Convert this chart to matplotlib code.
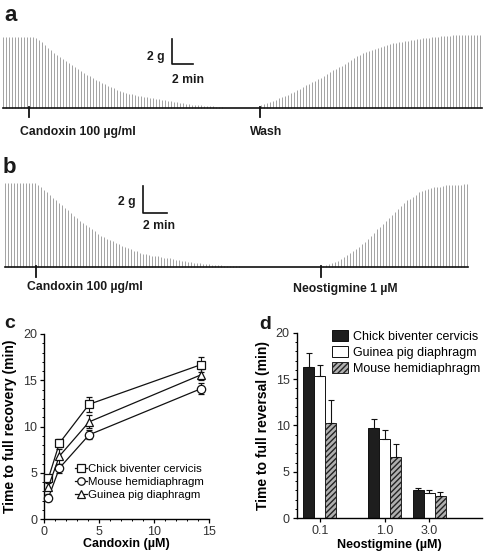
import numpy as np
import matplotlib.pyplot as plt
from matplotlib.ticker import MultipleLocator

plt.rcParams['font.family'] = ['Liberation Sans', 'DejaVu Sans']

# ---- panel a: twitch amplitudes (g), one twitch every 2/7 min
twitch_step_a = 2.0 / 7.0
twitch_a = ([5.68] * 11 +
            [5.60, 5.44, 5.24, 5.04, 4.80, 4.60, 4.40, 4.24, 4.08, 3.92,
             3.76, 3.60, 3.44, 3.28, 3.12, 2.96, 2.76, 2.64, 2.52, 2.40,
             2.24, 2.12, 2.00, 1.88, 1.76, 1.68, 1.56, 1.44, 1.36, 1.28,
             1.20, 1.12, 1.08, 1.00, 0.96, 0.92, 0.88, 0.84, 0.80, 0.76,
             0.72, 0.68, 0.64, 0.60, 0.56, 0.52, 0.48, 0.44, 0.40, 0.36,
             0.32, 0.30, 0.27, 0.25, 0.22, 0.21, 0.18, 0.16, 0.14, 0.12,
             0.10, 0.09, 0.08] +
            [0.0] * 12 +
            [0.24, 0.32, 0.40, 0.48, 0.56, 0.66, 0.76, 0.84, 0.96, 1.04,
             1.16, 1.28, 1.40, 1.52, 1.64, 1.80, 1.92, 2.04, 2.16, 2.28,
             2.40, 2.56, 2.68, 2.84, 3.00, 3.12, 3.24, 3.36, 3.52, 3.68,
             3.84, 3.96, 4.12, 4.24, 4.36, 4.48, 4.56, 4.64, 4.72, 4.80,
             4.88, 4.96, 5.04, 5.08, 5.16, 5.20, 5.24, 5.28, 5.32, 5.36,
             5.40, 5.44, 5.48, 5.52, 5.56, 5.60, 5.62, 5.65, 5.68, 5.70,
             5.72, 5.74, 5.76, 5.78] +
            [5.82] * 10)
events_a = [2.48, 24.48]
event_labels_a = ['Candoxin 100 µg/ml', 'Wash']

# ---- panel b: twitch amplitudes (g), one twitch every 0.25 min
twitch_step_b = 0.25
twitch_b = ([6.22] * 11 +
            [6.07, 5.93, 5.74, 5.56, 5.33, 5.11, 4.93, 4.74, 4.56, 4.37,
             4.19, 4.00, 3.78, 3.63, 3.44, 3.26, 3.11, 2.96, 2.78, 2.63,
             2.48, 2.33, 2.22, 2.11, 2.00, 1.89, 1.78, 1.70, 1.59, 1.48,
             1.41, 1.30, 1.22, 1.15, 1.07, 1.00, 0.93, 0.89, 0.85, 0.81,
             0.78, 0.74, 0.70, 0.67, 0.63, 0.59, 0.54, 0.49, 0.45, 0.41,
             0.39, 0.36, 0.33, 0.30, 0.28, 0.25, 0.22, 0.20, 0.18, 0.16,
             0.13, 0.12, 0.10, 0.09, 0.07, 0.06, 0.04, 0.04] +
            [0.0] * 27 +
            [0.07, 0.15, 0.22, 0.30, 0.37, 0.48, 0.59, 0.74, 0.89, 1.04,
             1.19, 1.33, 1.48, 1.67, 1.85, 2.07, 2.30, 2.52, 2.78, 3.00,
             3.22, 3.44, 3.63, 3.85, 4.07, 4.30, 4.52, 4.74, 4.93, 5.07,
             5.22, 5.37, 5.52, 5.63, 5.70, 5.78, 5.85, 5.89, 5.93, 5.96,
             6.00, 6.04, 6.07, 6.07, 6.10, 6.11, 6.11, 6.12, 6.12])
events_b = [2.58, 26.33]
event_labels_b = ['Candoxin 100 µg/ml', 'Neostigmine 1 µM']

# ---- panel c: time to full recovery (min) vs candoxin (uM)
cand_conc = [0.4, 1.4, 4.1, 14.3]
chick_rec = [4.4, 8.2, 12.4, 16.7]
chick_rec_err = [0.4, 0.4, 0.8, 0.8]
mouse_rec = [2.3, 5.5, 9.1, 14.1]
mouse_rec_err = [0.4, 0.5, 0.5, 0.6]
guinea_rec = [3.5, 6.8, 10.5, 15.6]
guinea_rec_err = [0.4, 0.8, 0.7, 0.6]

# ---- panel d: time to full reversal (min) vs neostigmine (uM)
neo_labels = ['0.1', '1.0', '3.0']
chick_rev = [16.3, 9.7, 3.0]
chick_rev_err = [1.5, 1.0, 0.3]
guinea_rev = [15.3, 8.5, 2.75]
guinea_rev_err = [1.2, 1.0, 0.3]
mouse_rev = [10.3, 6.6, 2.45]
mouse_rev_err = [2.4, 1.4, 0.4]

W, H = 488, 552
fig = plt.figure(figsize=(W / 100, H / 100), dpi=100)


def px_axes(x0, y0, x1, y1):
    # axes from pixel box (top-left origin)
    return fig.add_axes([x0 / W, 1 - y1 / H, (x1 - x0) / W, (y1 - y0) / H])


def draw_trace(ax, amps, step, events, labels, label_pos, bar, end):
    t = np.arange(len(amps)) * step
    ax.vlines(t, 0, amps, color='#a3a3a3', lw=0.7)
    ax.plot([t[0], end], [0, 0], color='#111111', lw=1.2)
    for ev in events:
        ax.plot([ev, ev], [0.1, -0.72], color='#111111', lw=1.3)
    for lab, (lx, ly) in zip(labels, label_pos):
        ax.text(lx, ly, lab, fontsize=8.8, fontweight='bold',
                ha='left', va='center', color='#1a1a1a')
    bx, by = bar
    ax.plot([bx, bx, bx + 2], [by + 2, by, by], color='#111111', lw=1.2)
    ax.axis('off')
    return t


# panel a (10.5 px/min, 12.5 px/g, baseline at y=108 px)
ax_a = px_axes(0, 30, 488, 145)
ax_a.set_xlim(-3 / 10.5, 485 / 10.5)
ax_a.set_ylim((108 - 145) / 12.5, (108 - 30) / 12.5)
draw_trace(ax_a, twitch_a, twitch_step_a, events_a, event_labels_a,
           [(1.62, -1.92), (23.5, -1.92)], (16.1, 3.52), 479 / 10.5)
ax_a.text(15.4, 4.1, '2 g', fontsize=8.8, fontweight='bold', ha='right',
          va='center', color='#1a1a1a')
ax_a.text(16.1, 2.24, '2 min', fontsize=8.8, fontweight='bold', ha='left',
          va='center', color='#1a1a1a')

# panel b (12 px/min, 13.5 px/g, baseline at y=267 px)
ax_b = px_axes(0, 175, 488, 300)
ax_b.set_xlim(-5 / 12, 483 / 12)
ax_b.set_ylim((267 - 300) / 13.5, (267 - 175) / 13.5)
draw_trace(ax_b, twitch_b, twitch_step_b, events_b, event_labels_b,
           [(1.83, -1.5), (24.0, -1.65)], (11.5, 4.0), 463 / 12)
ax_b.text(10.92, 4.84, '2 g', fontsize=8.8, fontweight='bold', ha='right',
          va='center', color='#1a1a1a')
ax_b.text(11.5, 3.04, '2 min', fontsize=8.8, fontweight='bold', ha='left',
          va='center', color='#1a1a1a')


def style_axes(ax):
    for s in ['top', 'right']:
        ax.spines[s].set_visible(False)
    for s in ['left', 'bottom']:
        ax.spines[s].set_linewidth(1.0)
    ax.tick_params(which='major', direction='out', length=3, width=0.9,
                   labelsize=9, labelcolor='#333333', pad=2)
    ax.tick_params(which='minor', direction='out', length=1.6, width=0.7)
    ax.yaxis.set_major_locator(MultipleLocator(5))
    ax.yaxis.set_minor_locator(MultipleLocator(1))
    ax.set_ylim(0, 20)


# panel c
ax_c = px_axes(44, 334, 209, 519)
style_axes(ax_c)
ax_c.set_xlim(0, 15)
ax_c.xaxis.set_major_locator(MultipleLocator(5))
ax_c.xaxis.set_minor_locator(MultipleLocator(1))
series_c = [(chick_rec, chick_rec_err, 's', 'Chick biventer cervicis'),
            (mouse_rec, mouse_rec_err, 'o', 'Mouse hemidiaphragm'),
            (guinea_rec, guinea_rec_err, '^', 'Guinea pig diaphragm')]
for vals, err, mk, lab in series_c:
    ax_c.errorbar(cand_conc, vals, yerr=err, color='#111111', lw=0.9,
                  marker=mk, ms=6, mfc='white', mec='#111111', mew=0.9,
                  capsize=2.5, elinewidth=0.8, capthick=0.8, label=lab,
                  clip_on=False, zorder=3)
handles, labs = ax_c.get_legend_handles_labels()
ax_c.legend([h[0] for h in handles], labs, loc='upper left',
            bbox_to_anchor=(0.19, 0.30), frameon=False, fontsize=8.2,
            handlelength=1.0, handletextpad=0.1, labelspacing=0.3,
            borderpad=0, borderaxespad=0, markerscale=0.9)
ax_c.set_ylabel('Time to full recovery (min)', fontsize=10,
                fontweight='bold', labelpad=4)
ax_c.set_xlabel('Candoxin (µM)', fontsize=9, fontweight='bold', labelpad=0)

# panel d (x in bar-width units)
ax_d = px_axes(296.7, 332.7, 481.7, 518.3)
style_axes(ax_d)
ax_d.set_xlim(0, 16.8)
group_x = np.array([2.1, 8.0, 12.05])
bar_w = 1.0
ax_d.bar(group_x - bar_w, chick_rev, bar_w, yerr=[[0] * 3, chick_rev_err],
         color='#1e1e1e', edgecolor='#111111', lw=0.7,
         error_kw=dict(capsize=2.5, elinewidth=0.8, capthick=0.8,
                       ecolor='#111111'),
         label='Chick biventer cervicis')
ax_d.bar(group_x, guinea_rev, bar_w, yerr=[[0] * 3, guinea_rev_err],
         color='white', edgecolor='#111111', lw=0.7,
         error_kw=dict(capsize=2.5, elinewidth=0.8, capthick=0.8,
                       ecolor='#111111'),
         label='Guinea pig diaphragm')
ax_d.bar(group_x + bar_w, mouse_rev, bar_w, yerr=[[0] * 3, mouse_rev_err],
         color='#b0b0b0', edgecolor='#222222', lw=0.7, hatch='//////',
         error_kw=dict(capsize=2.5, elinewidth=0.8, capthick=0.8,
                       ecolor='#111111'),
         label='Mouse hemidiaphragm')
ax_d.set_xticks(group_x)
ax_d.set_xticklabels(neo_labels)
ax_d.legend(loc='upper left', bbox_to_anchor=(0.19, 1.015), frameon=False,
            fontsize=9, handlelength=1.3, handleheight=1.0,
            handletextpad=0.4, labelspacing=0.25, borderpad=0,
            borderaxespad=0)
ax_d.set_ylabel('Time to full reversal (min)', fontsize=10,
                fontweight='bold', labelpad=4)
ax_d.set_xlabel('Neostigmine (µM)', fontsize=9, fontweight='bold',
                labelpad=1)

# panel letters
for lab, x, y, fs in [('a', 4, 21, 16), ('b', 3, 173, 16),
                      ('c', 4, 328, 14), ('d', 259, 329, 14)]:
    fig.text(x / W, 1 - y / H, lab, fontsize=fs, fontweight='bold',
             va='baseline', ha='left', color='#1a1a1a')

fig.savefig('out.png', dpi=100)
